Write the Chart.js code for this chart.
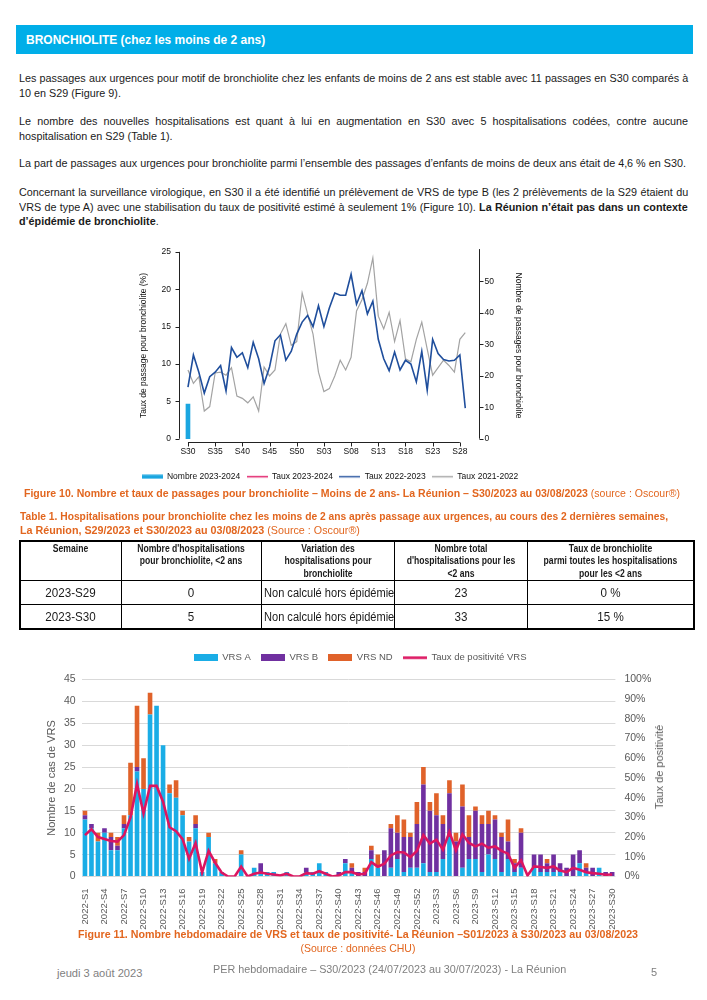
<!DOCTYPE html>
<html lang="fr">
<head>
<meta charset="UTF-8">
<title>BRONCHIOLITE - La Réunion S30/2023</title>
<script src="https://cdn.jsdelivr.net/npm/chart.js@4.4.0/dist/chart.umd.min.js"></script>
<style>
  body { margin: 0; background: #fff; }
  #page { position: relative; width: 707px; height: 1000px; overflow: hidden;
          font-family: "Liberation Sans", Arial, sans-serif; color: #1a1a1a; }
  .abs { position: absolute; white-space: nowrap; }
  .ln { position: absolute; left: 19px; font-size: 11.5px; line-height: 14px; white-space: nowrap; transform-origin: 0 50%; }
  #bandeau { left: 16px; top: 25px; width: 677px; height: 29px; background: #00AEE8; color: #fff;
             font-weight: bold; font-size: 13.5px; line-height: 29px; padding-left: 10px; box-sizing: border-box; }
  #bt { display: inline-block; transform-origin: 0 50%; }
  .cap { color: #E2661F; font-size: 11.5px; line-height: 15px; }
  .fl { transform-origin: 0 50%; }
  .fc { transform-origin: 50% 50%; }
  #tab { left: 19px; top: 540px; width: 674px; border-collapse: collapse; table-layout: fixed; border: 2px solid #000; }
  #tab th, #tab td { border: 1px solid #000; padding: 0; overflow: visible; }
  #tab th { font-size: 10px; line-height: 12.4px; vertical-align: top; padding-top: 1px; height: 37px; font-weight: bold; }
  #tab td { font-size: 13.5px; text-align: center; height: 23px; }
  .sx { width: 200%; margin-left: -50%; text-align: center; white-space: nowrap; }
  th .sx { transform: scaleX(0.86); }
  td .sx { transform: scaleX(0.86); }
  #tab td.nc { font-size: 12.5px; text-align: left; padding-left: 2px; }
  #tab td.nc span { display: inline-block; white-space: nowrap; transform-origin: 0 50%; }
  .pied { color: #7f7f7f; font-size: 11px; line-height: 15px; }
  canvas { position: absolute; }
</style>
</head>
<body>
<div id="page">
  <div id="bandeau" class="abs"><span id="bt" data-w="239">BRONCHIOLITE (chez les moins de 2 ans)</span></div>

  <div class="ln" data-j="1" style="top:71px">Les passages aux urgences pour motif de bronchiolite chez les enfants de moins de 2 ans est stable avec 11 passages en S30 comparés à</div>
  <div class="ln" style="top:86px">10 en S29 (Figure 9).</div>

  <div class="ln" data-j="1" style="top:114px">Le nombre des nouvelles hospitalisations est quant à lui en augmentation en S30 avec 5 hospitalisations codées, contre aucune</div>
  <div class="ln" style="top:129px">hospitalisation en S29 (Table 1).</div>

  <div class="ln" id="ref" style="top:156px">La part de passages aux urgences pour bronchiolite parmi l’ensemble des passages d’enfants de moins de deux ans était de 4,6 % en S30.</div>

  <div class="ln" data-j="1" style="top:185px">Concernant la surveillance virologique, en S30 il a été identifié un prélèvement de VRS de type B (les 2 prélèvements de la S29 étaient du</div>
  <div class="ln" data-j="1" style="top:200px">VRS de type A) avec une stabilisation du taux de positivité estimé à seulement 1% (Figure 10). <b>La Réunion n’était pas dans un contexte</b></div>
  <div class="ln" style="top:214px"><b>d’épidémie de bronchiolite</b>.</div>

  <canvas id="fig10" width="400" height="255" style="left:130px; top:236px;"></canvas>

  <div class="abs cap fc" data-w="656" data-cx="352" style="top:486px;"><b>Figure 10. Nombre et taux de passages pour bronchiolite – Moins de 2 ans- La Réunion – S30/2023 au 03/08/2023</b> (source : Oscour®)</div>

  <div class="abs cap fl" data-w="648" style="left:20px; top:508.5px;"><b>Table 1. Hospitalisations pour bronchiolite chez les moins de 2 ans après passage aux urgences, au cours des 2 dernières semaines,</b></div>
  <div class="abs cap fl" data-w="340" style="left:20px; top:523px;"><b>La Réunion, S29/2023 et S30/2023 au 03/08/2023</b> (Source : Oscour®)</div>

  <table id="tab" class="abs">
    <colgroup><col style="width:101px"><col style="width:140px"><col style="width:133px"><col style="width:133px"><col style="width:167px"></colgroup>
    <tr>
      <th><div class="sx">Semaine</div></th>
      <th><div class="sx">Nombre d'hospitalisations<br>pour bronchiolite, &lt;2 ans</div></th>
      <th><div class="sx">Variation des<br>hospitalisations pour<br>bronchiolite</div></th>
      <th><div class="sx">Nombre total<br>d'hospitalisations pour les<br>&lt;2 ans</div></th>
      <th><div class="sx">Taux de bronchiolite<br>parmi toutes les hospitalisations<br>pour les &lt;2 ans</div></th>
    </tr>
    <tr><td><div class="sx">2023-S29</div></td><td><div class="sx">0</div></td><td class="nc"><span data-w="130">Non calculé hors épidémie</span></td><td><div class="sx">23</div></td><td><div class="sx">0 %</div></td></tr>
    <tr><td><div class="sx">2023-S30</div></td><td><div class="sx">5</div></td><td class="nc"><span data-w="130">Non calculé hors épidémie</span></td><td><div class="sx">33</div></td><td><div class="sx">15 %</div></td></tr>
  </table>

  <canvas id="fig11" width="640" height="290" style="left:40px; top:643px;"></canvas>
  <div class="abs" style="left:659px; top:767px; font-size:11px; color:#595959; transform:translate(-50%,-50%) rotate(-90deg);">Taux de positivité</div>

  <div class="abs cap fc" data-w="560" data-cx="358" style="top:927px;"><b>Figure 11. Nombre hebdomadaire de VRS et taux de positivité- La Réunion –S01/2023 à S30/2023 au 03/08/2023</b></div>
  <div class="abs cap fc" data-w="115" data-cx="357.5" style="top:941px;">(Source : données CHU)</div>

  <div class="abs pied fl" data-w="85" style="left:57px; top:966px;">jeudi 3 août 2023</div>
  <div class="abs pied fl" data-w="353" style="left:213px; top:961.5px;">PER hebdomadaire – S30/2023 (24/07/2023 au 30/07/2023) - La Réunion</div>
  <div class="abs pied" style="left:651px; top:964.5px;">5</div>
</div>

<script>
// ---------- Figure 10 : passages pour bronchiolite ----------
const semaines = ['S30','S31','S32','S33','S34','S35','S36','S37','S38','S39','S40','S41','S42','S43','S44',
  'S45','S46','S47','S48','S49','S50','S51','S52','S01','S02','S03','S04','S05','S06','S07','S08','S09',
  'S10','S11','S12','S13','S14','S15','S16','S17','S18','S19','S20','S21','S22','S23','S24','S25','S26',
  'S27','S28','S29'];
const nombre2324 = [11];
const taux2324 = [4.6];
const taux2223 = [6.9, 11.2, 8.9, 6.1, 8.3, 8.9, 9.8, 6.4, 12.2, 10.9, 11.5, 9.5, 12.9, 10.7, 7.4, 9.6,
  13.1, 13.9, 10.5, 11.7, 14.0, 15.6, 16.5, 15.0, 17.8, 15.0, 17.5, 19.5, 19.2, 19.2, 22.0, 18.0, 19.8,
  16.7, 18.4, 13.3, 10.7, 9.1, 11.6, 9.2, 10.5, 10.0, 7.6, 11.7, 6.5, 13.3, 11.4, 10.6, 10.4, 10.5, 11.2, 4.1];
const taux2122 = [9.2, 7.4, 8.3, 3.7, 4.3, 8.8, 8.9, 8.5, 9.5, 5.7, 5.4, 4.8, 5.6, 3.7, 9.6, 8.4, 9.2,
  14.0, 15.4, 12.5, 13.0, 19.5, 16.7, 14.0, 8.9, 6.3, 6.7, 8.4, 10.5, 9.2, 10.9, 17.1, 18.6, 20.8, 24.2,
  16.4, 14.7, 16.9, 13.0, 15.8, 10.7, 10.3, 13.3, 15.6, 12.0, 8.5, 9.5, 10.5, 9.8, 8.9, 13.3, 14.2];

// ---------- Figure 11 : VRS hebdomadaires ----------
const semaines11 = ['2022-S1','2022-S2','2022-S3','2022-S4','2022-S5','2022-S6','2022-S7','2022-S8','2022-S9',
  '2022-S10','2022-S11','2022-S12','2022-S13','2022-S14','2022-S15','2022-S16','2022-S17','2022-S18','2022-S19',
  '2022-S20','2022-S21','2022-S22','2022-S23','2022-S24','2022-S25','2022-S26','2022-S27','2022-S28','2022-S29',
  '2022-S30','2022-S31','2022-S32','2022-S33','2022-S34','2022-S35','2022-S36','2022-S37','2022-S38','2022-S39',
  '2022-S40','2022-S41','2022-S42','2022-S43','2022-S44','2022-S45','2022-S46','2022-S47','2022-S48','2022-S49',
  '2022-S50','2022-S51','2022-S52','2023-S1','2023-S2','2023-S3','2023-S4','2023-S5','2023-S6','2023-S7',
  '2023-S8','2023-S9','2023-S10','2023-S11','2023-S12','2023-S13','2023-S14','2023-S15','2023-S16','2023-S17',
  '2023-S18','2023-S19','2023-S20','2023-S21','2023-S22','2023-S23','2023-S24','2023-S25','2023-S26','2023-S27',
  '2023-S28','2023-S29','2023-S30'];
const vrsA = [13, 11, 8, 10, 6, 6, 11, 14, 24, 20, 37, 39, 30, 19, 18, 14, 8, 11, 1, 9,
  3, 1, 0, 0, 5, 0, 2, 1, 1, 1, 0, 1, 0, 0, 1, 1, 3, 1, 0, 0,
  3, 1, 0, 0, 4, 2, 0, 2, 4, 1, 2, 2, 3, 1, 1, 4, 9, 0, 2, 4,
  4, 1, 5, 4, 1, 4, 1, 2, 0, 2, 1, 1, 1, 1, 0, 0, 3, 1, 0, 2, 0, 0];
const vrsB = [1, 1, 0, 1, 3, 1, 1, 0, 1, 0, 0, 0, 0, 0, 0, 0, 0, 1, 0, 0,
  0, 0, 0, 0, 0, 0, 0, 2, 0, 0, 0, 0, 0, 0, 1, 0, 0, 0, 0, 1,
  1, 1, 1, 1, 2, 0, 6, 9, 6, 8, 7, 10, 18, 14, 13, 8, 10, 8, 14, 5,
  11, 11, 7, 9, 8, 4, 2, 8, 0, 3, 4, 2, 4, 2, 2, 5, 3, 1, 2, 0, 1, 1];
const vrsND = [1, 0, 2, 0, 1, 2, 2, 12, 14, 7, 5, 0, 0, 2, 4, 1, 1, 2, 0, 1,
  1, 0, 0, 0, 1, 0, 0, 0, 0, 0, 0, 0, 0, 0, 0, 0, 0, 0, 0, 0,
  0, 1, 0, 1, 1, 3, 0, 1, 4, 4, 1, 5, 4, 2, 5, 2, 3, 2, 5, 5,
  1, 2, 3, 1, 1, 5, 1, 1, 0, 0, 0, 1, 0, 0, 0, 0, 0, 1, 0, 0, 0, 0];
const tauxPositivite = [21, 24, 20, 19, 18, 17.7, 21, 30, 47, 32, 46, 46, 38, 25, 23, 19, 9, 17, 2, 13,
  7, 2, 0, 0, 5, 0, 1.4, 2, 1.4, 1, 0.5, 1.4, 0, 0, 1.7, 1.4, 2.7, 1.4, 0, 0.5,
  2.2, 2.2, 1, 1.4, 7.3, 5, 6.5, 10.7, 12.4, 12.2, 9.9, 13, 21, 16.7, 18.7, 13.6, 22.6, 13.3, 21.4, 17,
  15.3, 16.7, 14.6, 15.3, 13, 11.6, 4.4, 8.2, 0.5, 5.1, 4.8, 4.4, 5.1, 3, 2.2, 4.4, 3.4, 2.2, 1.7, 1.4, 0.9, 1];

// ---------- mise en page du texte (police plus large que Calibri -> compression) ----------
const K = 667 / document.getElementById('ref').offsetWidth;
document.querySelectorAll('.ln').forEach(el => {
  if (el.dataset.j) {
    const w = el.offsetWidth;
    const spaces = (el.textContent.match(/ /g) || []).length;
    if (w * K <= 669) {
      el.style.wordSpacing = ((669 / K - w) / spaces) + 'px';
      el.style.transform = `scaleX(${K})`;
    } else {
      el.style.transform = `scaleX(${669 / w})`;
    }
  } else {
    el.style.transform = `scaleX(${K})`;
  }
});
document.querySelectorAll('[data-w]').forEach(el => {
  const w = el.offsetWidth;
  if (el.dataset.cx) el.style.left = (+el.dataset.cx - w / 2) + 'px';
  el.style.transform = `scaleX(${+el.dataset.w / w})`;
});

const cyan10 = '#1BA6E0', rouge10 = '#E0115F', bleu10 = '#1F4E9C', gris10 = '#A3A3A3';
const colA = '#1AADE6', colB = '#7030A0', colND = '#E0622A', colTaux = '#DC1560';
const arial = 'Liberation Sans, Arial, sans-serif';

function swatch(w, h, color, lw) {
  const c = document.createElement('canvas');
  c.width = w; c.height = h;
  const g = c.getContext('2d');
  g.fillStyle = color;
  if (lw) g.fillRect(0, (h - lw) / 2, w, lw); else g.fillRect(0, 0, w, h);
  return c;
}

function legendItems(swatches) {
  return chart => {
    const items = Chart.defaults.plugins.legend.labels.generateLabels(chart);
    items.forEach(it => { it.pointStyle = swatches[it.datasetIndex]; });
    return items.sort((a, b) => a.datasetIndex - b.datasetIndex);
  };
}

// plus d'espace sous la légende
const legendSpace = extra => ({
  id: 'legendSpace',
  afterInit(chart) {
    const fit = chart.legend.fit;
    chart.legend.fit = function () { fit.call(this); this.height += extra; };
  }
});

// axes façon R : traits limités aux graduations
const axesR = {
  id: 'axesR',
  afterDraw(chart) {
    const {ctx, chartArea: a, scales: {x, y, y1}} = chart;
    ctx.save();
    ctx.strokeStyle = '#222';
    ctx.lineWidth = 1;
    ctx.beginPath();
    const yb = Math.round(a.bottom) + 0.5;
    ctx.moveTo(x.getPixelForValue(0), yb);
    ctx.lineTo(x.getPixelForValue(50), yb);
    x.ticks.forEach(t => {
      const px = Math.round(x.getPixelForValue(t.value)) + 0.5;
      ctx.moveTo(px, yb); ctx.lineTo(px, yb + 4);
    });
    const xl = Math.round(a.left) + 0.5;
    ctx.moveTo(xl, y.getPixelForValue(0));
    ctx.lineTo(xl, y.getPixelForValue(25));
    y.ticks.forEach(t => {
      const py = Math.round(y.getPixelForValue(t.value)) + 0.5;
      ctx.moveTo(xl, py); ctx.lineTo(xl - 4, py);
    });
    const xr = Math.round(a.right) + 0.5;
    ctx.moveTo(xr, y1.getPixelForValue(0));
    ctx.lineTo(xr, a.top);
    y1.ticks.filter(t => t.value <= 50).forEach(t => {
      const py = Math.round(y1.getPixelForValue(t.value)) + 0.5;
      ctx.moveTo(xr, py); ctx.lineTo(xr + 4, py);
    });
    ctx.stroke();
    ctx.restore();
  }
};

const pts = arr => arr.map((v, i) => ({x: i, y: v}));
const f10 = () => ({family: arial, size: 8.5});

new Chart(document.getElementById('fig10'), {
  type: 'line',
  data: {
    datasets: [
      {type: 'bar', label: 'Nombre 2023-2024', data: pts(nombre2324), yAxisID: 'y1',
       backgroundColor: cyan10, barThickness: 4},
      {label: 'Taux 2023-2024', data: pts(taux2324), borderColor: rouge10, borderWidth: 1.5, pointRadius: 0},
      {label: 'Taux 2022-2023', data: pts(taux2223), borderColor: bleu10, borderWidth: 1.6, pointRadius: 0, tension: 0},
      {label: 'Taux 2021-2022', data: pts(taux2122), borderColor: gris10, borderWidth: 1.2, pointRadius: 0, tension: 0}
    ]
  },
  options: {
    responsive: false,
    animation: false,
    layout: {padding: {top: 8, left: 0, right: 0, bottom: 0}},
    plugins: {
      tooltip: {enabled: false},
      legend: {
        position: 'bottom',
        labels: {
          usePointStyle: true, pointStyleWidth: 21, boxHeight: 4, padding: 6.5,
          color: '#111', font: f10(),
          generateLabels: legendItems([swatch(21, 5, cyan10, 4), swatch(21, 5, rouge10, 1.4),
                                       swatch(21, 5, bleu10, 1.4), swatch(21, 5, gris10, 1.4)])
        }
      }
    },
    scales: {
      x: {
        type: 'linear', offset: false, min: -1.65, max: 53.45,
        grid: {display: false, drawTicks: false, offset: false}, border: {display: false},
        ticks: {stepSize: 5, includeBounds: false, maxTicksLimit: 100, autoSkip: false,
                maxRotation: 0, minRotation: 0, padding: 5, color: '#111', font: f10(),
                callback: v => semaines[Math.round(v)] || ''},
        afterFit: s => { s.height = 24; }
      },
      y: {
        min: -0.44, max: 25.37,
        grid: {display: false, drawTicks: false}, border: {display: false},
        ticks: {stepSize: 5, includeBounds: false, padding: 8, color: '#111', font: f10()},
        title: {display: true, text: 'Taux de passage pour bronchiolite (%)', color: '#111', font: f10(),
                padding: {top: 8.4, bottom: 0}},
        afterFit: s => { s.width = 49; }
      },
      y1: {
        position: 'right', min: -1.05, max: 60.25,
        grid: {display: false, drawTicks: false}, border: {display: false},
        ticks: {stepSize: 10, includeBounds: false, padding: 6, color: '#111', font: f10(),
                callback: v => (v > 50 ? null : v)},
        title: {display: true, text: 'Nombre de passages pour bronchiolite', color: '#111', font: f10(),
                padding: {top: 6.4, bottom: 0}},
        afterFit: s => { s.width = 51.4; }
      }
    }
  },
  plugins: [axesR]
});

const gris11 = '#595959';
new Chart(document.getElementById('fig11'), {
  type: 'bar',
  data: {
    labels: semaines11,
    datasets: [
      {label: 'VRS A', data: vrsA, backgroundColor: colA, order: 1},
      {label: 'VRS B', data: vrsB, backgroundColor: colB, order: 1},
      {label: 'VRS ND', data: vrsND, backgroundColor: colND, order: 1},
      {type: 'line', label: 'Taux de positivité VRS', data: tauxPositivite, yAxisID: 'y1',
       borderColor: colTaux, borderWidth: 2.6, pointRadius: 0, tension: 0, order: 0}
    ]
  },
  options: {
    responsive: false,
    animation: false,
    datasets: {bar: {categoryPercentage: 0.74, barPercentage: 0.96}},
    plugins: {
      tooltip: {enabled: false},
      legend: {
        position: 'top',
        labels: {
          usePointStyle: true, pointStyleWidth: 24, boxHeight: 7, padding: 10,
          color: gris11, font: {family: arial, size: 9.5},
          generateLabels: legendItems([swatch(24, 7, colA), swatch(24, 7, colB),
                                       swatch(24, 7, colND), swatch(24, 7, colTaux, 2.6)])
        }
      }
    },
    scales: {
      x: {
        stacked: true,
        grid: {display: false}, border: {display: false},
        ticks: {autoSkip: false, minRotation: 90, maxRotation: 90, padding: 4, color: gris11,
                font: {family: arial, size: 9.5},
                callback: function (v, i) { return i % 3 === 0 ? this.getLabelForValue(v) : null; }},
        afterFit: s => { s.height = 56.5; }
      },
      y: {
        stacked: true, min: 0, max: 45,
        grid: {color: '#D9D9D9', drawTicks: false}, border: {display: false},
        ticks: {stepSize: 5, padding: 6, color: gris11, font: {family: arial, size: 10.5}},
        title: {display: true, text: 'Nombre de cas de VRS', color: gris11, font: {family: arial, size: 11},
                padding: {top: 5.4, bottom: 0}},
        afterFit: s => { s.width = 41.7; }
      },
      y1: {
        position: 'right', min: 0, max: 100,
        grid: {drawOnChartArea: false, drawTicks: false}, border: {display: false},
        ticks: {stepSize: 10, padding: 9, color: gris11, font: {family: arial, size: 10.5},
                callback: v => v + '%'},
        afterFit: s => { s.width = 64.6; }
      }
    }
  },
  plugins: [legendSpace(7)]
});
</script>
</body>
</html>
